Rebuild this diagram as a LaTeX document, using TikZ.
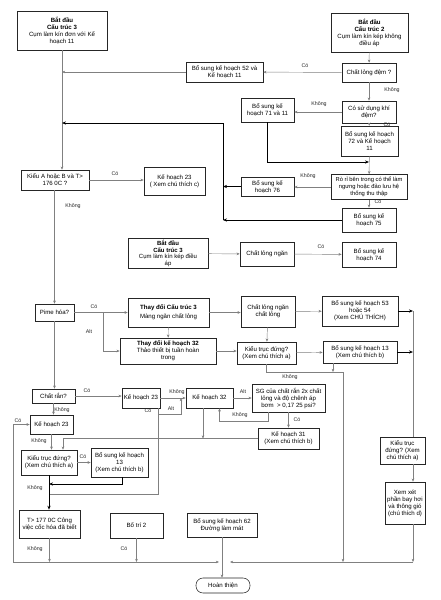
\documentclass[tikz,border=0pt]{standalone}
\usepackage{fontspec}
\setmainfont{Liberation Sans}
\usetikzlibrary{arrows.meta,positioning}
\tikzset{
  box/.style={draw=black!85,line width=0.55pt,fill=white,align=center,inner sep=1pt,font=\fontsize{6.1}{7}\selectfont},
  sz/.style 2 args={minimum width=#1pt,minimum height=#2pt},
  lbl/.style={font=\fontsize{5.3}{6}\selectfont,text=black!85,inner sep=0.5pt},
  ln/.style={draw=black!50,line width=0.45pt,-{Stealth[length=3.2pt,width=2.6pt]}},
  tk/.style={draw=black,line width=0.9pt,-{Stealth[length=4pt,width=3.2pt]}},
}
\begin{document}
\begin{tikzpicture}[x=1pt,y=-1pt]
\useasboundingbox (0,0) rectangle (440,600);
% hop
\node[box,sz={90}{39}] (s3a) at (62,30.5) {\textbf{Bắt đầu}\\\textbf{Cấu trúc 3}\\Cụm làm kín đơn với Kế\\hoạch 11};
\node[box,sz={77}{39}] (s2) at (369.5,32.5) {\textbf{Bắt đầu}\\\textbf{Cấu trúc 2}\\Cụm làm kín kép không\\điều áp};
\node[box,sz={77}{20}] (p52) at (224.5,72) {Bổ sung kế hoạch 52 và\\Kế hoạch 11};
\node[box,sz={54}{19}] (cld) at (369,72.5) {Chất lỏng đệm ?};
\node[box,sz={54}{22}] (ksd) at (369,112) {Có sử dụng khí\\đệm?};
\node[box,sz={53}{24}] (p71) at (267.5,110) {Bổ sung kế\\hoạch 71 và 11};
\node[box,sz={57}{30}] (p72) at (369.5,141) {Bổ sung kế hoạch\\72 và Kế hoạch\\11};
\node[box,sz={76}{25},font=\fontsize{5.8}{7}\selectfont] (rori) at (369,187) {Rò rỉ bên trong có thể làm\\ngưng hoặc đảo lưu hệ\\thống thu thập};
\node[box,sz={53}{19}] (p76) at (267.5,186.5) {Bổ sung kế\\hoạch 76};
\node[box,sz={54}{24}] (p75) at (369,220) {Bổ sung kế\\hoạch 75};
\node[box,sz={68}{20}] (kab) at (55,180) {Kiểu A hoặc B và T>\\176 0C ?};
\node[box,sz={61}{28}] (k23c) at (174.5,181) {Kế hoạch 23\\( Xem chú thích c)};
\node[box,sz={80}{30},font=\fontsize{6}{6.5}\selectfont] (s3b) at (168,253.5) {\textbf{Bắt đầu}\\\textbf{Cấu trúc 3}\\Cụm làm kín kép điều\\áp};
\node[box,sz={54}{24}] (cln) at (267,254) {Chất lỏng ngăn};
\node[box,sz={54}{25}] (p74) at (369,254.5) {Bổ sung kế\\hoạch 74};
\node[box,sz={39}{17}] (pime) at (54.5,312.5) {Pime hóa?};
\node[box,sz={81}{29}] (tdc) at (168.5,312.5) {\textbf{Thay đổi Cấu trúc 3}\\[2pt]Màng ngăn chất lỏng};
\node[box,sz={54}{31}] (cnc) at (268,311.5) {Chất lỏng ngăn\\chất lỏng};
\node[box,sz={76}{30}] (p53) at (360,311) {Bổ sung kế hoạch 53\\hoặc 54\\(Xem CHÚ THÍCH)};
\node[box,sz={96}{26}] (tdk) at (168,351) {\textbf{Thay đổi kế hoạch 32}\\Thảo thiết bị tuần hoàn\\trong};
\node[box,sz={59}{22}] (ktd1) at (266.5,353) {Kiểu trục đứng?\\(Xem chú thích a)};
\node[box,sz={74}{22}] (p13a) at (360,352) {Bổ sung kế hoạch 13\\(Xem chú thích b)};
\node[box,sz={43}{14}] (cr) at (53.5,396) {Chất rắn?};
\node[box,sz={38}{20}] (k23m) at (141,398) {Kế hoạch 23};
\node[box,sz={47}{20}] (k32) at (209.5,398) {Kế hoạch 32};
\node[box,sz={73}{28}] (sg) at (288.5,398) {SG của chất rắn 2x chất\\lỏng và độ chênh áp\\bơm\ \ > 0,17 25 psi?};
\node[box,sz={43}{19}] (k23l) at (51.5,424.5) {Kế hoạch 23};
\node[box,sz={61}{21}] (k31) at (288.5,438.5) {Kế hoạch 31\\(Xem chú thích b)};
\node[box,sz={45}{27}] (ktd3) at (402.5,450.5) {Kiểu trục\\đứng? (Xem\\chú thích a)};
\node[box,sz={56}{25}] (ktd2) at (49,462.5) {Kiểu trục đứng?\\(Xem chú thích a)};
\node[box,sz={57}{29}] (p13b) at (119.5,462.5) {Bổ sung kế hoạch\\13\\(Xem chú thích b)};
\node[box,sz={40}{42}] (xx) at (405,503) {Xem xét\\phần bay hơi\\và thông gió\\(chú thích d)};
\node[box,sz={61}{28}] (t177) at (49.5,524) {T> 177 0C Công\\việc cốc hóa đã biết};
\node[box,sz={53}{25}] (bt2) at (136.5,525.5) {Bố trí 2};
\node[box,sz={70}{24}] (p62) at (222,525) {Bổ sung kế hoạch 62\\Đường làm mát};
\node[box,sz={54}{15},rounded corners=7pt] (done) at (223,585.5) {Hoàn thiện};
% diem noi
\coordinate (j1) at (369,162);
\coordinate (m1) at (223,220);
\coordinate (m2) at (223,123);
\coordinate (w1) at (103,312.5);
\coordinate (r1) at (413,311);
\coordinate (k2) at (343,372);
\coordinate (b0) at (13,562);
\coordinate (bm) at (224,562);
\coordinate (g1) at (268,421);
\coordinate (v1) at (158,494);
\coordinate (v2) at (181,414);
\coordinate (u1) at (122,484);
% duong noi
\draw[ln] (s3a) -- (s3a |- kab.north);
\draw[ln] (p52) -- (p52 -| s3a);
\draw[ln] (cld) -- (p52);
\draw[ln] (s2) -- (cld);
\draw[ln] (cld) -- (ksd);
\draw[ln] (ksd.west) -- (ksd.west -| p71.east);
\draw[ln] (ksd) -- (p72);
\draw[ln] (p72) -- (rori);
\draw[tk] (p71) |- (j1);
\draw[ln] (rori.west) -- (rori.west -| p76.east);
\draw[ln] (rori) -- (p75);
\draw[tk] (p76) -- (p76 -| m1);
\draw[tk] (p75) -- (m1);
\draw[tk] (m1) -- (m2) -- (m2 -| s3a);
\draw[ln] (kab.east) -- (kab.east -| k23c.west);
\draw[ln] (kab.south -| pime.north) -- (pime.north);
\draw[ln] (s3b) -- (cln);
\draw[ln] (cln) -- (p74);
\draw[ln] (pime) -- (tdc);
\draw[ln] (w1) |- (tdk);
\draw[ln] (pime.south) -- (pime.south |- cr.north);
\draw[ln] (tdc) -- (tdk);
\draw[ln] (tdc.east) -- (tdc.east -| cnc.west);
\draw[ln] (cnc) -- (p53);
\draw[ln] (cnc) -- (ktd1);
\draw[ln] (tdk.east) -- (tdk.east -| ktd1.west);
\draw[ln] (ktd1) -- (p13a);
\draw[tk] (p53) -- (p53 -| r1);
\draw[tk] (p13a) -- (p13a -| r1);
\draw[ln,-] (r1) -- (r1 |- ktd3.north);
\draw[ln] (r1 |- ktd3.south) -- (r1 |- xx.north);
\draw[ln] (r1 |- xx.south) -- (r1 |- b0);
\draw[ln] (ktd1) |- (k2) -- (k2 |- b0);
\draw[ln] ([xshift=-27pt]p13a.south) -- ([xshift=-27pt]p13a.south |- k2);
\draw[ln] (b0) |- (k23l);
\draw[ln] (b0) -- ([xshift=-5pt]bm);
\draw[ln] (r1 |- b0) -- ([xshift=6pt]bm);
\draw[ln] (p62.south) -- (p62.south |- done.north);
\draw[ln] (t177) -- (t177 |- b0);
\draw[ln] (bt2) -- (bt2 |- b0);
\draw[ln] (cr.east) -- (cr.east -| k23m.west);
\draw[ln] (cr.south) -- (cr.south |- k23l.north);
\draw[ln] (k23l) -- (k23l |- ktd2.north);
\draw[ln] (k23m) -- (k32);
\draw[ln] (k32) -- (sg);
\draw[ln] (sg) -- (k31);
\draw[ln] (g1 |- sg.south) -- (g1) -| ([xshift=10pt]k32.south);
\draw[ln] (k31.west) -| ([xshift=14pt]ktd2.north);
\draw[ln] ([xshift=-6.5pt]k32.south) -- ([xshift=-6.5pt]k32.south |- k31.west);
\draw[ln,-] (v1 |- k23m.south) -- (v1) -- (v1 -| ktd2.south);
\draw[ln] (v2 -| v1) -| (v2 |- k32.west);
\draw[ln] (ktd2) -- (p13b);
\draw[tk] (ktd2.south) -- (ktd2.south |- t177.north);
\draw[tk] (u1 |- p13b.south) -- (u1) -- (u1 -| ktd2.south);
% nhan
\node[lbl] (la1) at (305,66) {Có};
\node[lbl] (la2) at (392,90) {Không};
\node[lbl] (la3) at (319,104) {Không};
\node[lbl] (la4) at (387,125) {Có};
\node[lbl] (la5) at (308,176) {Không};
\node[lbl] (la6) at (378,202) {Có};
\node[lbl] (la7) at (115,174) {Có};
\node[lbl] (la8) at (73,206) {Không};
\node[lbl] (la9) at (321,247) {Có};
\node[lbl] (la10) at (94,307) {Có};
\node[lbl] (la11) at (89,332) {Alt};
\node[lbl] (la12) at (87,391) {Có};
\node[lbl] (la13) at (62,410) {Không};
\node[lbl] (la14) at (18,421) {Có};
\node[lbl] (la15) at (39,441) {Không};
\node[lbl] (la16) at (177,392) {Không};
\node[lbl] (la17) at (148,411) {Có};
\node[lbl] (la18) at (171,409) {Alt};
\node[lbl] (la19) at (243,392) {Alt};
\node[lbl] (la20) at (240,415) {Không};
\node[lbl] (la21) at (297,420) {Có};
\node[lbl] (la22) at (290,377) {Không};
\node[lbl] (la23) at (83,457) {Có};
\node[lbl] (la24) at (35,488) {Không};
\node[lbl] (la25) at (35,549) {Không};
\node[lbl] (la26) at (124,549) {Có};
\end{tikzpicture}
\end{document}
